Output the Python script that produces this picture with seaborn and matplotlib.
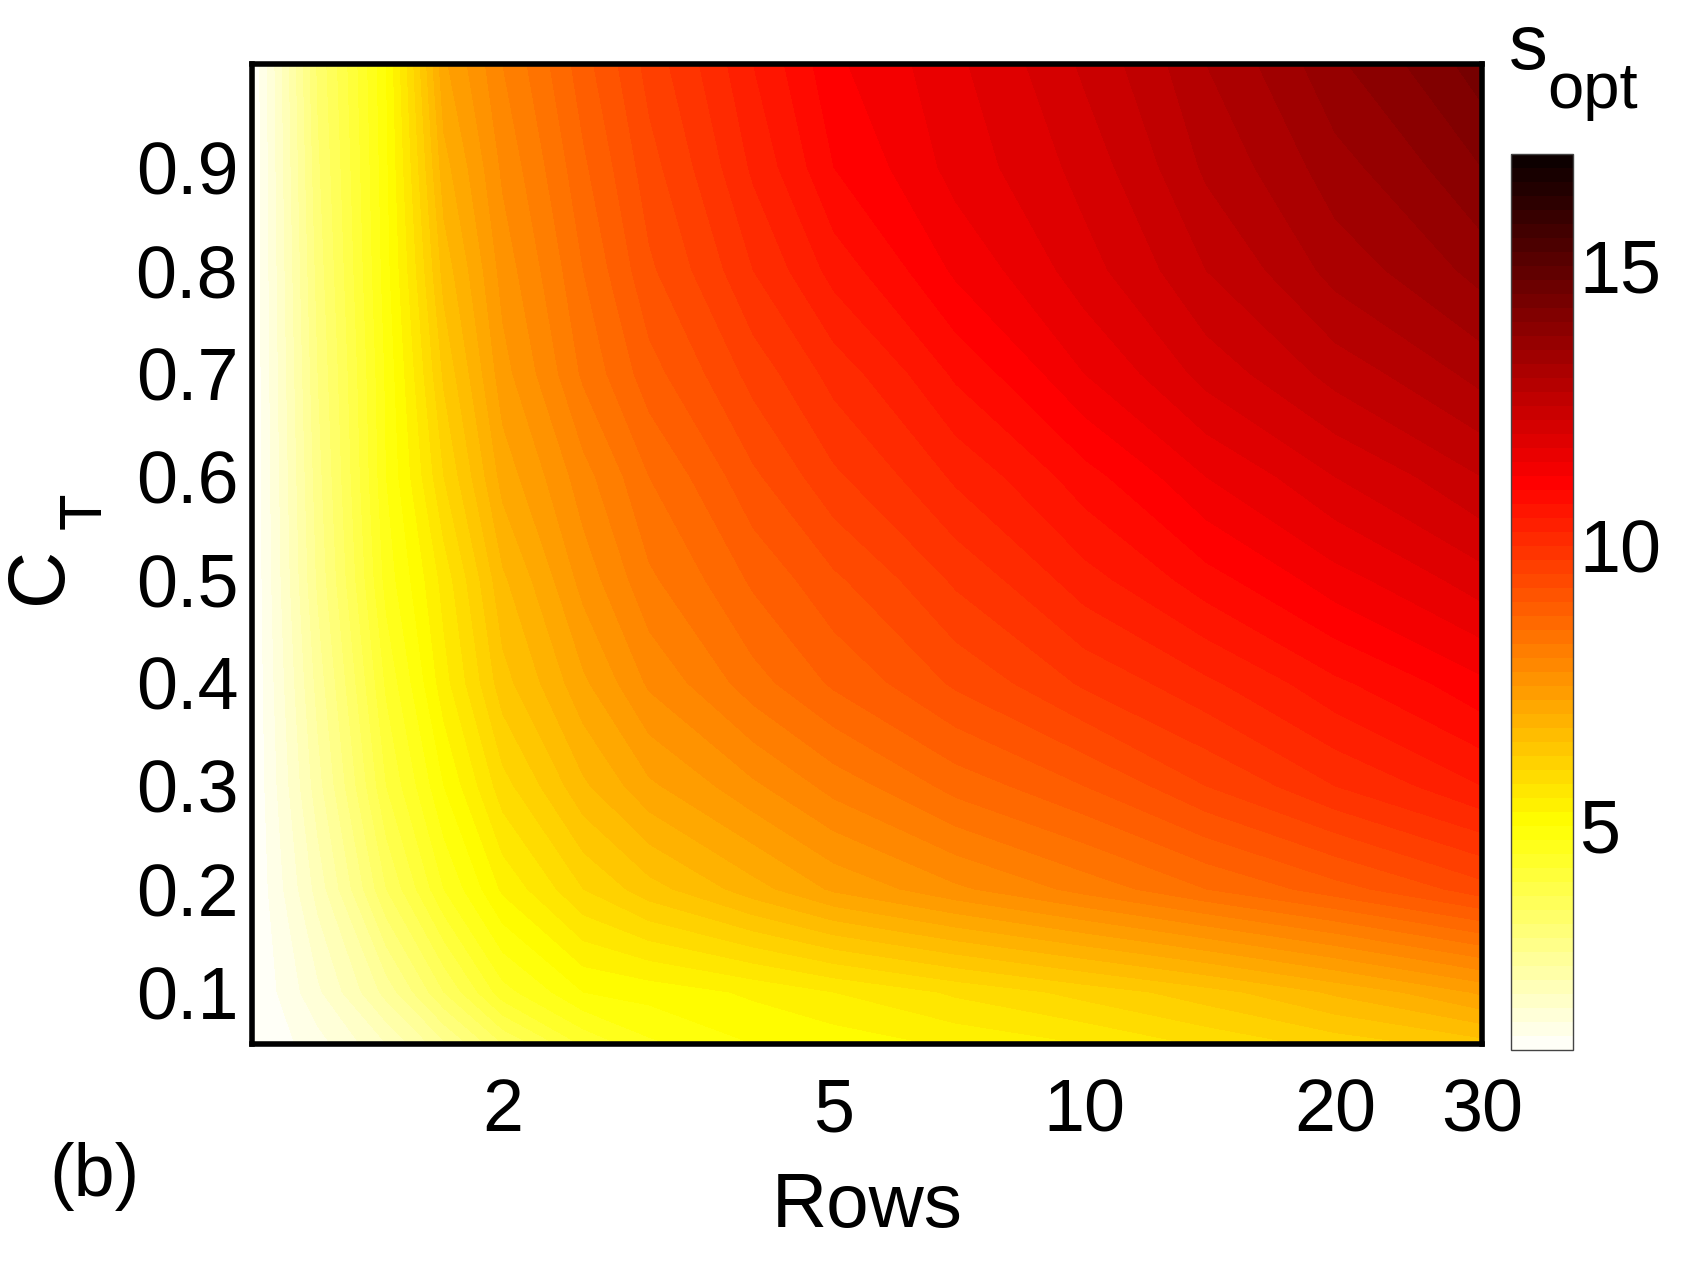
import numpy as np
import seaborn as sns
import matplotlib.pyplot as plt

sns.set_style('white')
plt.rcParams['font.family'] = ['Liberation Sans', 'DejaVu Sans']
plt.rcParams['text.color'] = 'black'
plt.rcParams['axes.labelcolor'] = 'black'

# grid: number of rows (log axis) and C_T levels
rows = [1, 1.2, 1.45, 1.7, 2, 2.5, 3, 4, 5, 7, 10, 14, 20, 30]
ct = [0.05, 0.1, 0.2, 0.3, 0.4, 0.5, 0.6, 0.7, 0.8, 0.9, 1.0]

# s_opt along each C_T level (one value per entry of rows)
s_ct005 = [1, 1.4, 2.0, 2.7, 3.5, 4.3, 4.7, 5.0, 5.1, 5.3, 5.5, 5.8, 6.1, 6.4]
s_ct010 = [1, 1.7, 2.6, 3.5, 4.4, 5.0, 5.1, 5.3, 5.5, 5.8, 6.1, 6.4, 6.8, 7.3]
s_ct020 = [1, 2.1, 3.5, 4.5, 5.3, 6.0, 6.4, 6.9, 7.3, 7.7, 8.1, 8.5, 8.9, 9.4]
s_ct030 = [1, 2.4, 4.0, 5.0, 5.9, 6.7, 7.2, 7.7, 8.1, 8.6, 9.0, 9.5, 10.0, 10.5]
s_ct040 = [1, 2.6, 4.3, 5.4, 6.4, 7.2, 7.8, 8.4, 8.8, 9.3, 9.8, 10.2, 10.7, 11.2]
s_ct050 = [1, 2.8, 4.6, 5.6, 6.7, 7.6, 8.2, 8.8, 9.2, 9.8, 10.4, 10.9, 11.4, 11.9]
s_ct060 = [1, 2.9, 4.75, 6.0, 7.1, 7.9, 8.5, 9.2, 9.7, 10.3, 10.9, 11.5, 12.0, 12.5]
s_ct070 = [1, 3.0, 4.8, 6.3, 7.4, 8.3, 8.9, 9.6, 10.1, 10.8, 11.5, 12.1, 12.6, 13.1]
s_ct080 = [1, 3.1, 4.9, 6.6, 7.6, 8.5, 9.2, 10.0, 10.6, 11.3, 11.9, 12.5, 13.1, 13.6]
s_ct090 = [1, 3.2, 4.95, 6.9, 7.8, 8.7, 9.4, 10.3, 11.0, 11.6, 12.1, 12.8, 13.4, 14.0]
s_ct100 = [1, 3.3, 5.0, 7.2, 8.0, 8.9, 9.6, 10.5, 11.2, 11.7, 12.3, 13.0, 13.7, 14.4]

xticks = [2, 5, 10, 20, 30]
yticks = [0.1, 0.2, 0.3, 0.4, 0.5, 0.6, 0.7, 0.8, 0.9]
cbticks = [5, 10, 15]

Z = np.array([s_ct005, s_ct010, s_ct020, s_ct030, s_ct040, s_ct050,
              s_ct060, s_ct070, s_ct080, s_ct090, s_ct100])
X, Y = np.meshgrid(rows, ct)

fig = plt.figure(figsize=(16.84, 12.62), dpi=100)
ax = fig.add_axes([0.1497, 0.173, 0.7303, 0.776])
cax = fig.add_axes([0.897, 0.168, 0.0368, 0.710])

cf = ax.contourf(X, Y, Z, levels=np.linspace(1, 17, 65), cmap='hot_r',
                 vmin=1, vmax=17, antialiased=False)
ax.set_xscale('log')
ax.set_xlim(1, 30)
ax.set_ylim(0.05, 1.0)
ax.minorticks_off()
ax.set_xticks(xticks)
ax.set_xticklabels([str(t) for t in xticks])
ax.set_yticks(yticks)
ax.set_yticklabels([str(t) for t in yticks])
ax.tick_params(length=0, labelsize=53, colors='black')
ax.tick_params(axis='x', pad=24)
ax.tick_params(axis='y', pad=10)
for sp in ax.spines.values():
    sp.set_linewidth(4)
    sp.set_color('black')
ax.set_xlabel('Rows', fontsize=55, labelpad=19, color='black')

cb = fig.colorbar(cf, cax=cax, ticks=cbticks)
cb.ax.tick_params(labelsize=53, direction='in', length=8, width=1,
                  left=True, right=True, pad=5, colors='black')
cb.outline.set_linewidth(1)
cb.outline.set_edgecolor('#444444')

# colorbar title s_opt and y label C_T, built from pieces
fig.text(0.896, 0.9453, 's', fontsize=56, va='baseline', ha='left')
fig.text(0.919, 0.9144, 'opt', fontsize=47, va='baseline', ha='left')
fig.text(0.0238, 0.5444, 'C', fontsize=57, rotation=90, va='center', ha='center')
fig.text(0.0505, 0.595, 'T', fontsize=43, rotation=90, va='center', ha='center')
fig.text(0.056, 0.068, '(b)', fontsize=53, va='center', ha='center')

fig.savefig('out.png', dpi=100)
